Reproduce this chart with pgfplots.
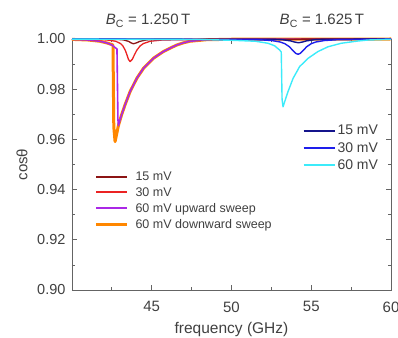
\documentclass[border=0pt]{standalone}
\usepackage{pgfplots}
\pgfplotsset{compat=1.18}
\usepackage{fontspec}
\setmainfont{Liberation Sans}
\usetikzlibrary{calc}
\definecolor{txt}{RGB}{64,64,64}
\definecolor{axc}{RGB}{100,100,100}
\definecolor{cA}{RGB}{140,20,20}
\definecolor{cB}{RGB}{235,35,35}
\definecolor{cC}{RGB}{170,40,230}
\definecolor{cD}{RGB}{255,135,0}
\definecolor{cE}{RGB}{20,20,140}
\definecolor{cF}{RGB}{30,30,235}
\definecolor{cG}{RGB}{60,235,250}
\begin{document}
\begin{tikzpicture}
\pgfplotsset{
 common/.style={
  scale only axis, width=319pt, height=251pt,
  xmin=40, xmax=60, ymin=0.90, ymax=1.00,
  clip=false,
  legend cell align=left,
  legend image code/.code={\draw[line cap=butt,##1] (0pt,0pt) -- (31pt,0pt);},
 }
}
\begin{axis}[common, name=ax1,
 axis line style={axc, line width=0.8pt},
 tick style={axc, line width=0.8pt},
 tick align=inside,
 major tick length=5pt, minor tick length=3pt,
 xtick={45,50,55,60}, minor xtick={42.5,47.5,52.5,57.5},
 ytick={0.90,0.92,0.94,0.96,0.98,1.00}, minor ytick={0.91,0.93,0.95,0.97,0.99},
 /pgf/number format/assume math mode=true,
 yticklabel style={/pgf/number format/.cd, fixed, fixed zerofill, precision=2, /tikz/.cd, font=\fontsize{14.5}{16}\selectfont, text=txt, xshift=-3pt},
 xticklabel style={font=\fontsize{15}{17}\selectfont, text=txt, yshift=-8pt},
 xlabel={frequency (GHz)}, ylabel={cosθ},
 xlabel style={at={(axis description cs:0.5,-0.159)}, anchor=center, font=\fontsize{15.5}{18}\selectfont, text=txt},
 ylabel style={at={(axis description cs:-0.157,0.5)}, anchor=center, font=\fontsize{15}{18}\selectfont, text=txt},
 legend style={at={(0.07,0.480)}, anchor=north west, draw=none, fill=none, font=\fontsize{12.5}{14}\selectfont, row sep=1.5pt, inner sep=0pt,
   /tikz/every odd column/.append style={column sep=5pt}},
]
% 60 mV downward sweep
\addplot[cD, line width=3pt, line join=round, forget plot] coordinates {
(40,0.99985)(41,0.9996)(41.75,0.9991)(42.2,0.9984)(42.5,0.9978)(42.57,0.9975)
(42.62,0.9650)(42.70,0.9591)(42.91,0.9655)
(43.1,0.9696)(43.32,0.9737)(43.64,0.9790)(44.06,0.9843)(44.48,0.9883)(45.1,0.9923)
(45.73,0.9950)(46.2,0.9965)(46.57,0.9976)(47.0,0.9985)(47.4,0.9991)(48.4,0.9997)(50,0.9999)(60,1.0)};
% 60 mV upward sweep
\addplot[cC, line width=1.6pt, line join=round, forget plot] coordinates {
(40,0.99985)(41,0.9996)(41.75,0.9991)(42.2,0.9984)(42.5,0.9976)(42.7,0.9966)(42.82,0.9960)
(42.88,0.9680)(42.91,0.9655)
(43.1,0.9696)(43.32,0.9737)(43.64,0.9790)(44.06,0.9843)(44.48,0.9883)(45.1,0.9923)
(45.73,0.9950)(46.2,0.9965)(46.57,0.9976)(47.0,0.9985)(47.4,0.9991)(48.4,0.9997)(50,0.9999)(60,1.0)};
% 30 mV
\addplot[cB, line width=1.3pt, line join=round, forget plot] coordinates {
(40,0.99995)(42.14,0.99965)(42.74,0.9991)(43.04,0.9982)(43.19,0.99723)(43.34,0.9955)(43.44,0.99377)(43.54,0.9919)
(43.64,0.9910)(43.78,0.9919)(43.92,0.99377)(44.06,0.9955)(44.27,0.99723)(44.48,0.9982)(44.9,0.9991)(45.74,0.99965)(60,0.99998)};
% 15 mV
\addplot[cA, line width=1.3pt, line join=round, forget plot] coordinates {
(40,1.0)(42.85,0.99984)(43.25,0.99962)(43.55,0.99905)(43.7,0.99848)(43.85,0.9981)
(44.05,0.99848)(44.25,0.99905)(44.65,0.99962)(45.15,0.99984)(60,1.0)};
\addlegendimage{cA, line width=2pt}\addlegendentry{\textcolor{txt}{15 mV}}
\addlegendimage{cB, line width=2pt}\addlegendentry{\textcolor{txt}{30 mV}}
\addlegendimage{cC, line width=2pt}\addlegendentry{\textcolor{txt}{60 mV upward sweep}}
\addlegendimage{cD, line width=3pt}\addlegendentry{\textcolor{txt}{60 mV downward sweep}}
\node[anchor=base, yshift=14pt, font=\fontsize{15}{17}\selectfont, text=txt] at (axis cs:44.77,1.0) {\textit{B}\textsubscript{C} = 1.250\,T};
\node[anchor=base, yshift=14pt, font=\fontsize{15}{17}\selectfont, text=txt] at (axis cs:55.67,1.0) {\textit{B}\textsubscript{C} = 1.625\,T};
\end{axis}
\begin{axis}[common, hide axis,
 legend style={at={(0.722,0.665)}, anchor=north west, draw=none, fill=none, font=\fontsize{14}{16}\selectfont, row sep=2pt, inner sep=0pt},
]
\addplot[cE, line width=1.4pt, line join=round, forget plot] coordinates {
(40,1.0)(52.7,0.99985)(53.2,0.9997)(53.7,0.99925)(53.95,0.9988)(54.2,0.9985)
(54.45,0.9988)(54.7,0.99925)(55.2,0.9997)(55.7,0.99985)(60,1.0)};
\addplot[cF, line width=1.4pt, line join=round, forget plot] coordinates {
(40,1.0)(51.67,0.99972)(52.52,0.99939)(53.07,0.99878)(53.345,0.99812)(53.62,0.99695)(53.895,0.99512)(54.03,0.99427)
(54.17,0.9939)(54.31,0.99427)(54.445,0.99512)(54.72,0.99695)(54.995,0.99812)(55.27,0.99878)(55.82,0.99939)(56.67,0.99972)(60,0.99995)};
\addplot[cG, line width=1.4pt, line join=round, forget plot] coordinates {
(40,0.99995)(48,0.9998)(50,0.9995)(51.5,0.9991)(52.29,0.9983)(52.7,0.9973)(53.02,0.9956)(53.12,0.9948)
(53.17,0.9760)(53.23,0.9730)(53.54,0.9790)(53.86,0.9843)(54.27,0.9890)(54.8,0.9923)(55.42,0.9950)
(56.05,0.9969)(56.88,0.9983)(57.93,0.9992)(58.56,0.9996)(60,0.9999)};
\addlegendimage{cE, line width=2pt}\addlegendentry{\textcolor{txt}{15 mV}}
\addlegendimage{cF, line width=2pt}\addlegendentry{\textcolor{txt}{30 mV}}
\addlegendimage{cG, line width=2pt}\addlegendentry{\textcolor{txt}{60 mV}}
\end{axis}
\pgfresetboundingbox
\path ($(ax1.south west)+(-72pt,-47pt)$) rectangle ($(ax1.north east)+(7pt,39pt)$);
\end{tikzpicture}
\end{document}
